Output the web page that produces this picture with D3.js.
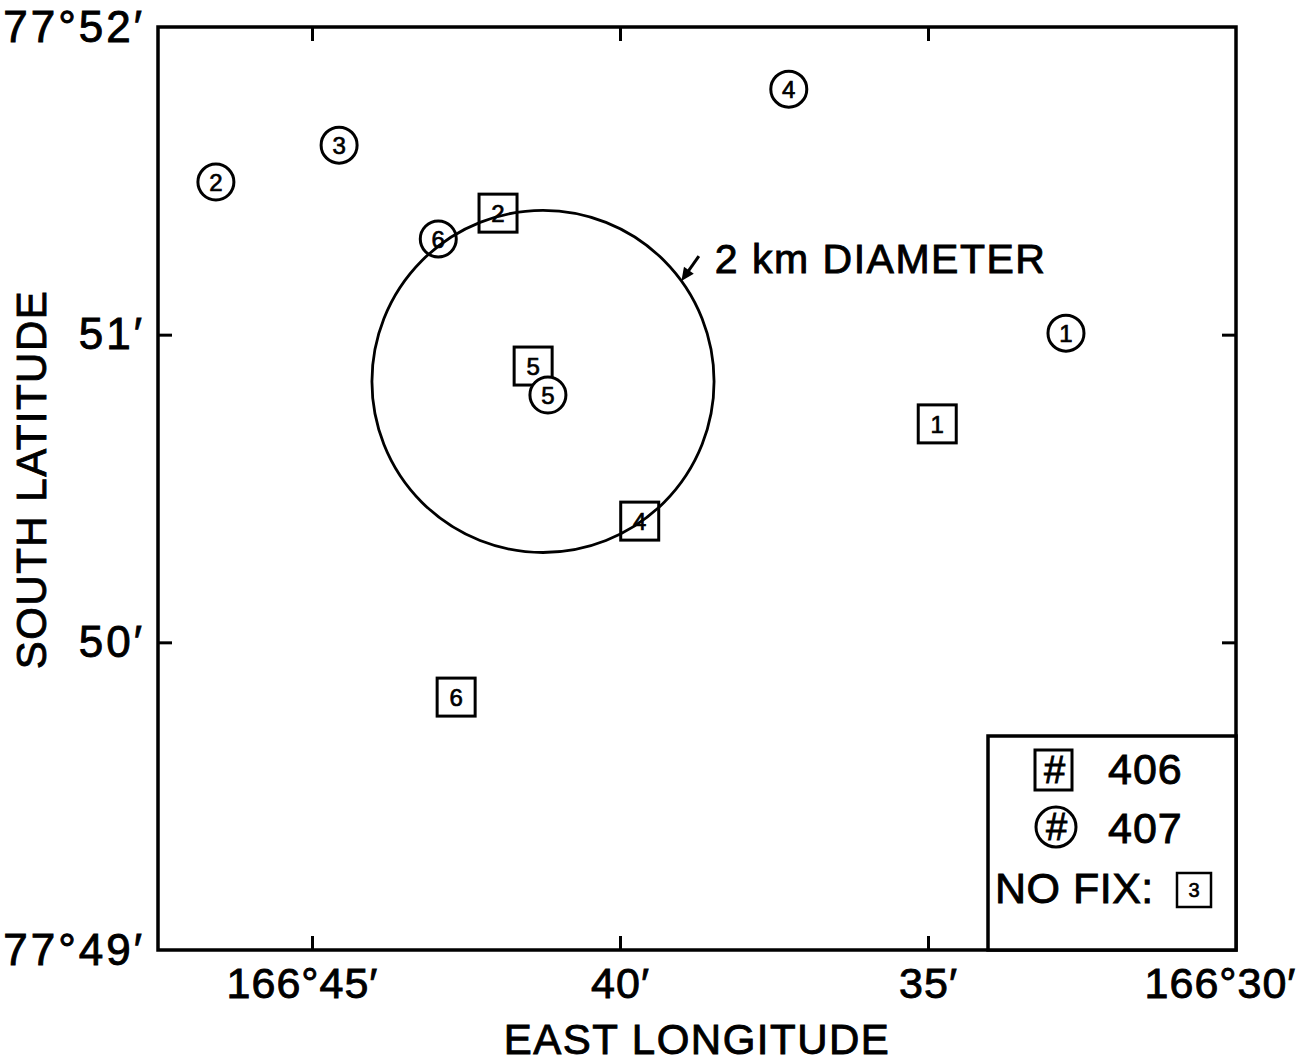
<!DOCTYPE html>
<html>
<head>
<meta charset="utf-8">
<script src="https://cdn.jsdelivr.net/npm/d3@7"></script>
<style>
  html, body { margin: 0; padding: 0; background: #fff; }
  svg { display: block; font-family: "Liberation Sans", Arial, Helvetica, sans-serif; }
  text { stroke: #000; stroke-width: 0.9px; fill: #000; }
  text.small { stroke-width: 0.7px; }
</style>
</head>
<body>
<svg id="chart" width="1305" height="1063"></svg>
<script>
// ---- Data (minutes of arc) ----
// Buoy 406 (square markers)
const ids406 = [1, 2, 4, 5, 6];
const lon406 = [34.85, 41.98, 39.68, 41.41, 42.66];   // East longitude minutes past 166°
const lat406 = [50.71, 51.395, 50.394, 50.898, 49.822]; // South latitude minutes past 77°
const noFix406 = [3];
// Buoy 407 (circle markers)
const ids407 = [1, 2, 3, 4, 5, 6];
const lon407 = [32.76, 46.56, 44.56, 37.26, 41.17, 42.95];
const lat407 = [51.005, 51.496, 51.616, 51.798, 50.804, 51.311];
// 2 km diameter reference circle
const refCircleCenter = [41.25, 50.848];   // [lon, lat]
const refCircleRadiusLat = 0.556;          // radius in minutes of latitude (~1 km)
const refLabel = "2 km DIAMETER";
const refLabelPos = [38.46, 51.20];

// Axes
const lonDomain = [47.5, 30];
const latDomain = [52, 49];
const xTickValues = [45, 40, 35, 30];
const xTickLabels = ["166°45′", "40′", "35′", "166°30′"];
const yTickValues = [52, 51, 50, 49];
const yTickLabels = ["77°52′", "51′", "50′", "77°49′"];
const xTitle = "EAST LONGITUDE";
const yTitle = "SOUTH LATITUDE";
const legendLabels = ["406", "407"];
const noFixLabel = "NO FIX:";

// ---- Layout ----
const svg = d3.select("#chart");
const M = { left: 158, top: 27, right: 69, bottom: 113 };
const W = 1305 - M.left - M.right;
const H = 1063 - M.top - M.bottom;
const g = svg.append("g").attr("transform", `translate(${M.left},${M.top})`);

const x = d3.scaleLinear().domain(lonDomain).range([0, W]);
const y = d3.scaleLinear().domain(latDomain).range([0, H]);

const FONT = 43;
const innerTicks = xTickValues.filter(v => v !== lonDomain[1] && v !== lonDomain[0]);
const innerYTicks = yTickValues.filter(v => v !== latDomain[0] && v !== latDomain[1]);

// Bottom axis (labels) + inner ticks
const xAxis = d3.axisBottom(x).tickValues(xTickValues)
  .tickFormat((d, i) => xTickLabels[i]).tickSizeInner(-14).tickSizeOuter(0).tickPadding(17);
const gx = g.append("g").attr("transform", `translate(0,${H})`).call(xAxis);
gx.select(".domain").remove();
gx.selectAll(".tick line").attr("stroke", "#000").attr("stroke-width", 3)
  .attr("display", d => innerTicks.includes(d) ? null : "none");
gx.selectAll(".tick text").attr("font-size", FONT).attr("fill", "#000")
  .attr("font-family", "Liberation Sans, Arial, sans-serif").attr("letter-spacing", 1)
  .attr("dx", (d, i) => xTickLabels[i].length > 4 ? (i === xTickLabels.length - 1 ? -16 : -10) : 0);

const xTop = d3.axisTop(x).tickValues(innerTicks).tickFormat("").tickSizeInner(-14).tickSizeOuter(0);
const gxt = g.append("g").call(xTop);
gxt.select(".domain").remove();
gxt.selectAll(".tick line").attr("stroke", "#000").attr("stroke-width", 3);

const yAxis = d3.axisLeft(y).tickValues(yTickValues)
  .tickFormat((d, i) => yTickLabels[i]).tickSizeInner(-14).tickSizeOuter(0).tickPadding(13);
const gy = g.append("g").call(yAxis);
gy.select(".domain").remove();
gy.selectAll(".tick line").attr("stroke", "#000").attr("stroke-width", 3)
  .attr("display", d => innerYTicks.includes(d) ? null : "none");
gy.selectAll(".tick text").attr("font-size", 44).attr("fill", "#000")
  .attr("font-family", "Liberation Sans, Arial, sans-serif").attr("letter-spacing", 3);

const yRight = d3.axisRight(y).tickValues(innerYTicks).tickFormat("").tickSizeInner(-14).tickSizeOuter(0);
const gyr = g.append("g").attr("transform", `translate(${W},0)`).call(yRight);
gyr.select(".domain").remove();
gyr.selectAll(".tick line").attr("stroke", "#000").attr("stroke-width", 3);

// Axis titles
svg.append("text").attr("x", M.left + W / 2).attr("y", 1054)
  .attr("text-anchor", "middle").attr("font-size", 42).attr("letter-spacing", 1.5).text(xTitle);
svg.append("text").attr("transform", `translate(46,${M.top + H / 2 - 9}) rotate(-90)`)
  .attr("text-anchor", "middle").attr("font-size", 42).attr("letter-spacing", 1.5).text(yTitle);

// ---- Markers ----
const SQ = 38, CR = 18;
const d406 = ids406.map((id, i) => ({ id, lon: lon406[i], lat: lat406[i] }));
const d407 = ids407.map((id, i) => ({ id, lon: lon407[i], lat: lat407[i] }));

const sq = g.selectAll(".sq").data(d406).enter().append("g")
  .attr("transform", d => `translate(${x(d.lon)},${y(d.lat)})`);
sq.append("rect").attr("x", -SQ / 2).attr("y", -SQ / 2).attr("width", SQ).attr("height", SQ)
  .attr("fill", "#fff").attr("stroke", "#000").attr("stroke-width", 3);
sq.append("text").attr("class", "small").attr("text-anchor", "middle").attr("dy", "0.36em")
  .attr("font-size", 24).text(d => d.id);

const ci = g.selectAll(".ci").data(d407).enter().append("g")
  .attr("transform", d => `translate(${x(d.lon)},${y(d.lat)})`);
ci.append("circle").attr("r", CR).attr("fill", "#fff").attr("stroke", "#000").attr("stroke-width", 3);
ci.append("text").attr("class", "small").attr("text-anchor", "middle").attr("dy", "0.36em")
  .attr("font-size", 24).text(d => d.id);

// Reference circle
const cx = x(refCircleCenter[0]), cy = y(refCircleCenter[1]);
const rPx = y(latDomain[0] - refCircleRadiusLat) - y(latDomain[0]);
g.append("circle").attr("cx", cx).attr("cy", cy).attr("r", rPx)
  .attr("fill", "none").attr("stroke", "#000").attr("stroke-width", 2.8);

// Annotation
const lx = x(refLabelPos[0]), ly = y(refLabelPos[1]);
g.append("text").attr("x", lx).attr("y", ly).attr("font-size", 41).attr("letter-spacing", 1.5).text(refLabel);
const ang = -36 * Math.PI / 180;
const tipX = cx + rPx * Math.cos(ang), tipY = cy + rPx * Math.sin(ang);
const tailX = lx - 16, tailY = ly - 17;
const dxA = tipX - tailX, dyA = tipY - tailY, len = Math.hypot(dxA, dyA);
const ux = dxA / len, uy = dyA / len;
g.append("line").attr("x1", tailX).attr("y1", tailY).attr("x2", tipX - ux * 8).attr("y2", tipY - uy * 8)
  .attr("stroke", "#000").attr("stroke-width", 3);
const hb = 13, hw = 6;
g.append("path").attr("d", `M${tipX},${tipY} L${tipX - ux * hb - uy * hw},${tipY - uy * hb + ux * hw} L${tipX - ux * hb + uy * hw},${tipY - uy * hb - ux * hw} Z`)
  .attr("fill", "#000");

// Frame
g.append("rect").attr("x", 0).attr("y", 0).attr("width", W).attr("height", H)
  .attr("fill", "none").attr("stroke", "#000").attr("stroke-width", 3.5);

// ---- Legend ----
const LW = 248, LH = 214;
const lg = g.append("g").attr("transform", `translate(${W - LW},${H - LH})`);
lg.append("rect").attr("width", LW).attr("height", LH).attr("fill", "#fff")
  .attr("stroke", "#000").attr("stroke-width", 3.5);
// square #
lg.append("rect").attr("x", 47).attr("y", 14).attr("width", 37).attr("height", 40)
  .attr("fill", "#fff").attr("stroke", "#000").attr("stroke-width", 3);
lg.append("text").attr("x", 66).attr("y", 47).attr("text-anchor", "middle")
  .attr("font-size", 38).attr("font-style", "italic").text("#");
lg.append("text").attr("x", 120).attr("y", 48).attr("font-size", FONT).attr("letter-spacing", 1).text(legendLabels[0]);
// circle #
lg.append("circle").attr("cx", 68).attr("cy", 91).attr("r", 20)
  .attr("fill", "#fff").attr("stroke", "#000").attr("stroke-width", 3);
lg.append("text").attr("x", 68).attr("y", 104).attr("text-anchor", "middle")
  .attr("font-size", 38).attr("font-style", "italic").text("#");
lg.append("text").attr("x", 120).attr("y", 107).attr("font-size", FONT).attr("letter-spacing", 1).text(legendLabels[1]);
// no fix
lg.append("text").attr("x", 7).attr("y", 167).attr("font-size", FONT).attr("letter-spacing", 0.5).text(noFixLabel);
lg.append("rect").attr("x", 189).attr("y", 137).attr("width", 34).attr("height", 34)
  .attr("fill", "#fff").attr("stroke", "#000").attr("stroke-width", 2.5);
lg.append("text").attr("class", "small").attr("x", 206).attr("y", 161).attr("text-anchor", "middle")
  .attr("font-size", 20).text(noFix406[0]);
</script>
</body>
</html>
